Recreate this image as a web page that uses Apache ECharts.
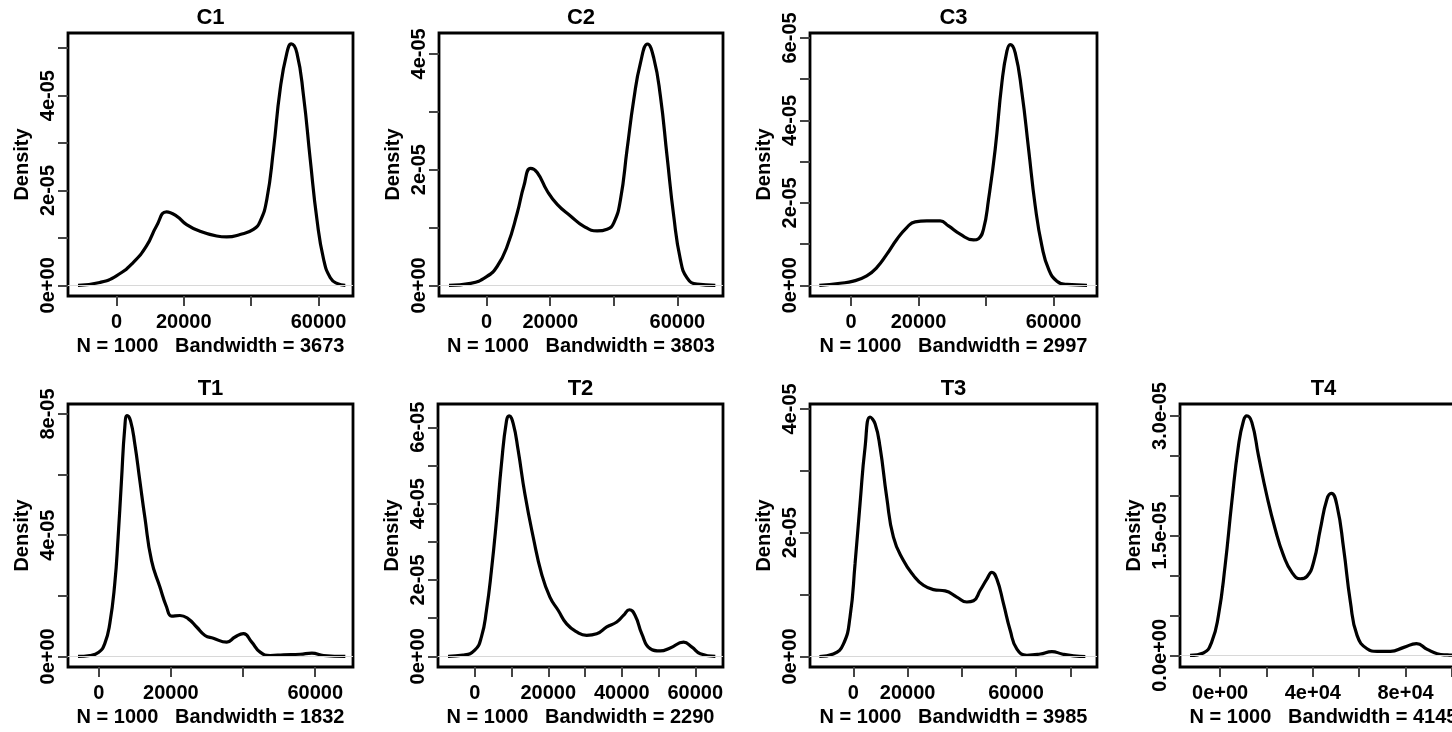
<!DOCTYPE html>
<html>
<head>
<meta charset="utf-8">
<title>Density plots</title>
<script src="https://cdn.jsdelivr.net/npm/echarts@6/dist/echarts.min.js"></script>
<style>
  html, body { margin: 0; padding: 0; background: #fff; }
  #main { width: 1452px; height: 732px; }
</style>
</head>
<body>
<div id="main"></div>
<script>
// panel titles and the kernel bandwidths printed under each plot
const panelNames = ['C1', 'C2', 'C3', 'T1', 'T2', 'T3', 'T4']
const sampleSizes = [1000, 1000, 1000, 1000, 1000, 1000, 1000]
const bandwidths = [3673, 3803, 2997, 1832, 2290, 3985, 4145]

// density curves, x in raw units, y in units of 1e-5
const c1X = [-11400, -4960, 0, 4960, 8930, 11900, 14880, 17860, 20830, 24800, 29760, 32740, 36700, 40670, 42660, 44640, 46620, 48600, 50600, 51900, 53570, 55550, 57540, 59520, 61500, 63490, 65470, 67950]
const c1Y = [0, 0.06, 0.2, 0.48, 0.83, 1.25, 1.55, 1.46, 1.28, 1.14, 1.04, 1.02, 1.07, 1.18, 1.35, 1.81, 2.86, 4.13, 4.9, 5.09, 4.9, 3.99, 2.65, 1.39, 0.55, 0.16, 0.04, 0]

const c2X = [-11830, -5030, 0, 3350, 6490, 9630, 11730, 13820, 15910, 19060, 22200, 26380, 30570, 34760, 37900, 40000, 42090, 44180, 46280, 48370, 50600, 52560, 54650, 56750, 58840, 60930, 63030, 66170, 71930]
const c2Y = [0, 0.035, 0.15, 0.33, 0.68, 1.25, 1.72, 2.02, 1.95, 1.63, 1.40, 1.20, 1.02, 0.94, 0.97, 1.08, 1.48, 2.35, 3.21, 3.84, 4.17, 3.93, 3.27, 2.23, 1.2, 0.45, 0.13, 0.02, 0]

const c3X = [-9400, -3260, 690, 4650, 7620, 10580, 13550, 16520, 19000, 22450, 26410, 28880, 32340, 36300, 37780, 39260, 40750, 42720, 44700, 46190, 47180, 48660, 50640, 52620, 54590, 56570, 58550, 61020, 63990, 69920]
const c3Y = [0, 0.05, 0.1, 0.23, 0.43, 0.75, 1.11, 1.40, 1.54, 1.56, 1.56, 1.44, 1.24, 1.10, 1.13, 1.36, 2.08, 3.30, 4.91, 5.68, 5.84, 5.64, 4.67, 3.30, 1.92, 0.95, 0.39, 0.1, 0.02, 0]

const t1X = [-5740, -2500, 0, 1670, 3060, 4440, 5370, 6300, 7220, 7870, 8800, 10000, 11390, 12780, 14630, 16950, 18800, 20190, 22500, 24820, 27130, 29450, 31760, 35470, 37780, 40100, 42410, 44730, 47500, 51210, 55840, 59080, 62320, 68340]
const t1Y = [0, 0.03, 0.14, 0.42, 1.08, 2.40, 3.93, 5.80, 7.56, 7.95, 7.78, 7.01, 5.80, 4.59, 3.16, 2.29, 1.63, 1.33, 1.35, 1.24, 0.97, 0.69, 0.60, 0.47, 0.64, 0.75, 0.47, 0.14, 0.03, 0.05, 0.07, 0.11, 0.03, 0]

const t2X = [-7270, -3180, 0, 1820, 3180, 4540, 5910, 7270, 8640, 9360, 10450, 11820, 13640, 15910, 18180, 20450, 22730, 25000, 27730, 30450, 33180, 35910, 38640, 40450, 42090, 43630, 45450, 47720, 50450, 53180, 56820, 59090, 61360, 65450]
const t2Y = [0, 0.03, 0.16, 0.51, 1.20, 2.25, 3.56, 5.04, 6.17, 6.30, 6.10, 5.39, 4.25, 3.12, 2.16, 1.55, 1.20, 0.85, 0.64, 0.55, 0.59, 0.77, 0.90, 1.07, 1.22, 1.07, 0.59, 0.20, 0.14, 0.22, 0.37, 0.24, 0.07, 0]

const t3X = [-12560, -7390, -3690, -1230, 620, 2460, 4310, 6160, 8000, 9850, 12310, 14770, 18470, 22160, 25850, 29540, 33850, 38160, 41850, 44310, 46780, 49240, 51090, 52930, 55390, 57860, 60320, 64010, 68940, 73250, 76940, 81250, 85560]
const t3Y = [0, 0.04, 0.20, 0.64, 1.50, 2.47, 3.38, 3.87, 3.76, 3.38, 2.57, 1.93, 1.55, 1.31, 1.15, 1.08, 1.06, 0.96, 0.88, 0.90, 1.07, 1.25, 1.36, 1.25, 0.85, 0.42, 0.12, 0.02, 0.04, 0.08, 0.04, 0.01, 0]

const t4X = [-12970, -7210, -3600, -720, 2160, 5040, 7930, 10090, 11530, 13690, 16570, 20170, 23780, 27380, 30980, 34580, 37470, 40350, 43230, 46110, 47990, 50440, 53320, 56200, 59080, 63400, 67730, 73490, 79250, 84730, 89340, 93670, 98000, 103000]
const t4Y = [0, 0.03, 0.17, 0.50, 1.125, 1.92, 2.63, 2.94, 3.0, 2.92, 2.50, 2.0, 1.58, 1.25, 1.04, 0.96, 0.99, 1.17, 1.58, 1.96, 2.03, 1.875, 1.33, 0.67, 0.25, 0.083, 0.05, 0.05, 0.10, 0.146, 0.075, 0.02, 0.005, 0]

// tick positions and their printed labels ('' = tick without label)
const xTicks20k = [0, 20000, 40000, 60000]
const xLabels20k = ['0', '20000', '', '60000']
const t2XTicks = [0, 10000, 20000, 30000, 40000, 50000, 60000]
const t2XLabels = ['0', '', '20000', '', '40000', '', '60000']
const t3XTicks = [0, 20000, 40000, 60000, 80000]
const t3XLabels = ['0', '20000', '', '60000', '']
const t4XTicks = [0, 20000, 40000, 60000, 80000, 100000]
const t4XLabels = ['0e+00', '', '4e+04', '', '8e+04', '']

const yTicks5 = [0, 1, 2, 3, 4, 5]
const yLabels5 = ['0e+00', '', '2e-05', '', '4e-05', '']
const yTicks4 = [0, 1, 2, 3, 4]
const yLabels4 = ['0e+00', '', '2e-05', '', '4e-05']
const yTicks6 = [0, 1, 2, 3, 4, 5, 6]
const yLabels6 = ['0e+00', '', '2e-05', '', '4e-05', '', '6e-05']
const t1YTicks = [0, 2, 4, 6, 8]
const t1YLabels = ['0e+00', '', '4e-05', '', '8e-05']
const t4YTicks = [0, 0.5, 1, 1.5, 2, 2.5, 3]
const t4YLabels = ['0.0e+00', '', '', '1.5e-05', '', '', '3.0e-05']

const panels = [
  {x: c1X, y: c1Y, xr: [-14380, 70230], yr: [-0.225, 5.32], xt: xTicks20k, xl: xLabels20k, yt: yTicks5, yl: yLabels5, box: [68, 33, 285, 263]},
  {x: c2X, y: c2Y, xr: [-14970, 74340], yr: [-0.184, 4.36], xt: xTicks20k, xl: xLabels20k, yt: yTicks4, yl: yLabels4, box: [439, 33, 284, 263]},
  {x: c3X, y: c3Y, xr: [-12160, 72890], yr: [-0.26, 6.12], xt: xTicks20k, xl: xLabels20k, yt: yTicks6, yl: yLabels6, box: [810, 33, 287, 263]},
  {x: t1X, y: t1Y, xr: [-8520, 70470], yr: [-0.35, 8.33], xt: xTicks20k, xl: xLabels20k, yt: t1YTicks, yl: t1YLabels, box: [68, 404, 285, 263]},
  {x: t2X, y: t2Y, xr: [-10000, 67540], yr: [-0.28, 6.61], xt: t2XTicks, xl: t2XLabels, yt: yTicks6, yl: yLabels6, box: [438, 404, 285, 263]},
  {x: t3X, y: t3Y, xr: [-16000, 89860], yr: [-0.17, 4.08], xt: t3XTicks, xl: t3XLabels, yt: yTicks4, yl: yLabels4, box: [810, 404, 287, 263]},
  {x: t4X, y: t4Y, xr: [-17300, 106500], yr: [-0.146, 3.15], xt: t4XTicks, xl: t4XLabels, yt: t4YTicks, yl: t4YLabels, box: [1180, 404, 287, 263]}
]

const FONT = '"Liberation Sans", Arial, sans-serif'
const txt = {fontFamily: FONT, fontWeight: 'bold', fontSize: 20, color: '#000'}

const labelFmt = (ticks, labels) => v => {
  const i = ticks.indexOf(v)
  return i < 0 ? '' : labels[i]
}

const grids = []
const xAxes = []
const yAxes = []
const series = []
const graphics = []

panels.forEach((p, i) => {
  const [l, t, w, h] = p.box
  grids.push({
    left: l, top: t, width: w, height: h,
    show: true, borderColor: '#000', borderWidth: 2.8,
    containLabel: false, outerBoundsMode: 'none'
  })
  xAxes.push({
    gridIndex: i, type: 'value', min: p.xr[0], max: p.xr[1], position: 'bottom',
    name: 'N = ' + sampleSizes[i] + '   Bandwidth = ' + bandwidths[i],
    nameLocation: 'middle', nameGap: 40, nameTextStyle: txt,
    axisLine: {show: false, onZero: false},
    splitLine: {show: false},
    axisTick: {show: true, length: 10, customValues: p.xt, lineStyle: {color: '#444', width: 2}},
    axisLabel: Object.assign({customValues: p.xt.filter((v, k) => p.xl[k] !== ''), margin: 16,
      formatter: labelFmt(p.xt, p.xl), hideOverlap: false, showMinLabel: true, showMaxLabel: true}, txt)
  })
  yAxes.push({
    gridIndex: i, type: 'value', min: p.yr[0], max: p.yr[1], position: 'left',
    name: 'Density', nameLocation: 'middle', nameGap: 36, nameTextStyle: txt,
    axisLine: {show: false, onZero: false},
    splitLine: {show: false},
    axisTick: {show: true, length: 10, customValues: p.yt, lineStyle: {color: '#444', width: 2}},
    axisLabel: Object.assign({customValues: p.yt.filter((v, k) => p.yl[k] !== ''), margin: 10, rotate: 90,
      formatter: labelFmt(p.yt, p.yl), hideOverlap: false, showMinLabel: true, showMaxLabel: true}, txt)
  })
  series.push({
    type: 'line', xAxisIndex: i, yAxisIndex: i,
    data: p.x.map((x, k) => [x, p.y[k]]),
    showSymbol: false, smooth: 0.5, clip: true,
    lineStyle: {color: '#000', width: 3.2},
    markLine: {
      silent: true, symbol: 'none', label: {show: false},
      lineStyle: {color: '#d8d8d8', width: 1, type: 'solid'},
      data: [{yAxis: 0}]
    }
  })
  graphics.push({
    type: 'text', x: l + w / 2, y: t - 15,
    style: {text: panelNames[i], align: 'center', verticalAlign: 'middle', fill: '#000',
      font: 'bold 22px ' + FONT}
  })
})

const chart = echarts.init(document.getElementById('main'))
chart.setOption({
  animation: false,
  backgroundColor: '#fff',
  grid: grids,
  xAxis: xAxes,
  yAxis: yAxes,
  series: series,
  graphic: graphics
})
</script>
</body>
</html>
